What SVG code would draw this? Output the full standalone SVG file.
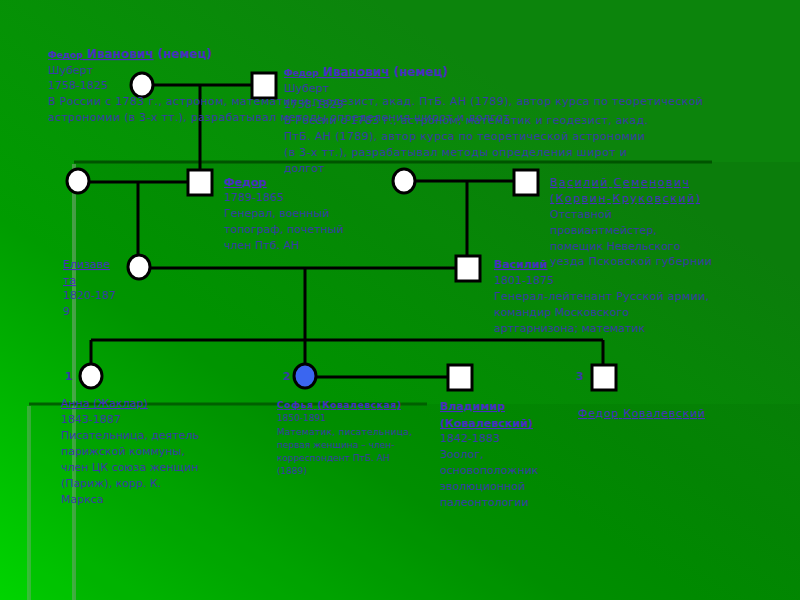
<svg xmlns="http://www.w3.org/2000/svg" width="800" height="600" viewBox="0 0 800 600">
<defs>
<linearGradient id="bg" x1="0" y1="1" x2="0.7" y2="0.2">
<stop offset="0" stop-color="#00d400"/>
<stop offset="0.45" stop-color="#009c00"/>
<stop offset="1" stop-color="#0c840c"/>
</linearGradient>
<style>
.ln{stroke:#000;stroke-width:3;fill:none}
.f{fill:#fff;stroke:#000;stroke-width:3}
.b{fill:#3a3aa6;font-family:"DejaVu Sans",Verdana,sans-serif;font-size:11px}
.s{fill:#3a3aa6;font-family:"DejaVu Sans",Verdana,sans-serif;font-size:9px}
.n{fill:#4a2ec0;text-decoration:underline}
.bd{font-weight:bold}
.num{fill:#3a3aa6;font-family:"DejaVu Sans",Verdana,sans-serif;font-size:11px;font-weight:bold}
</style>
</defs>
<rect width="800" height="600" fill="url(#bg)"/>
<rect x="74" y="162" width="726" height="438" fill="#003000" opacity="0.07"/>
<line x1="74" y1="164" x2="74" y2="600" stroke="#8aa88a" stroke-width="4" opacity="0.5"/>
<line x1="74" y1="162" x2="712" y2="162" stroke="#005400" stroke-width="3"/>
<rect x="29" y="404" width="771" height="196" fill="#003000" opacity="0.06"/>
<line x1="29" y1="406" x2="29" y2="600" stroke="#8aa88a" stroke-width="4" opacity="0.4"/>
<line x1="29" y1="404" x2="427" y2="404" stroke="#006000" stroke-width="3"/>

<g id="connectors">
<path class="ln" d="M153 85H252M200 85V170"/>
<path class="ln" d="M89 182H188M138 182V255"/>
<path class="ln" d="M415 181H514M467 181V256"/>
<path class="ln" d="M150 268H456M305 268V340"/>
<path class="ln" d="M91 340H603M91 340V364M305 340V364M603 340V365"/>
<path class="ln" d="M316 377H448"/>
</g>

<g id="n-gm1"><ellipse class="f" cx="142" cy="85" rx="11" ry="12"/></g>
<g id="n-gf1"><rect class="f" x="252" y="73" width="24" height="25"/></g>
<g id="n-gm2"><ellipse class="f" cx="78" cy="181" rx="11" ry="12"/></g>
<g id="n-fedor"><rect class="f" x="188" y="170" width="24" height="25"/></g>
<g id="n-gm3"><ellipse class="f" cx="404" cy="181" rx="11" ry="12"/></g>
<g id="n-vasilys"><rect class="f" x="514" y="170" width="24" height="25"/></g>
<g id="n-eliz"><ellipse class="f" cx="139" cy="267" rx="11" ry="12"/></g>
<g id="n-vasily"><rect class="f" x="456" y="256" width="24" height="25"/></g>
<g id="n-anna"><ellipse class="f" cx="91" cy="376" rx="11" ry="12"/></g>
<g id="n-sofia"><ellipse cx="305" cy="376" rx="11" ry="12" fill="#3a66f0" stroke="#000" stroke-width="3"/></g>
<g id="n-vlad"><rect class="f" x="448" y="365" width="24" height="25"/></g>
<g id="n-fedork"><rect class="f" x="592" y="365" width="24" height="25"/></g>

<g id="t-schubert1" class="b">
<text x="48" y="58"><tspan class="n bd" font-size="9">Федор</tspan><tspan class="n bd" font-size="12"> Иванович</tspan><tspan class="bd" fill="#4a2ec0" font-size="12"> (немец)</tspan></text>
<text x="48" y="74">Шуберт</text>
<text x="48" y="89">1758-1825</text>
<text x="48" y="105" textLength="655">В России с 1783 г., астроном, математик и геодезист, акад. ПтБ. АН (1789), автор курса по теоретической</text>
<text x="48" y="121" textLength="462">астрономии (в 3-х тт.), разрабатывал методы определения широт и долгот</text>
</g>
<g id="t-schubert2" class="b">
<text x="284" y="76"><tspan class="n bd" font-size="9">Федор</tspan><tspan class="n bd" font-size="12"> Иванович</tspan><tspan class="bd" fill="#4a2ec0" font-size="12"> (немец)</tspan></text>
<text x="284" y="92">Шуберт</text>
<text x="284" y="108">1758-1825</text>
<text x="284" y="124" textLength="364">В России с 1783 г., астроном, математик и геодезист, акад.</text>
<text x="284" y="140" textLength="361">ПтБ. АН (1789), автор курса по теоретической астрономии</text>
<text x="284" y="156" textLength="343">(в 3-х тт.), разрабатывал методы определения широт и</text>
<text x="284" y="172">долгот</text>
</g>
<g id="t-fedor" class="b">
<text x="224" y="186" class="n bd">Федор</text>
<text x="224" y="201">1789-1865</text>
<text x="224" y="217">Генерал, военный</text>
<text x="224" y="233">топограф, почетный</text>
<text x="224" y="249">член Птб. АН</text>
</g>
<g id="t-vasilys" class="b">
<text x="550" y="186" class="n" textLength="139">Василий Семенович</text>
<text x="550" y="202" class="n" textLength="150">(Корвин-Круковский)</text>
<text x="550" y="218">Отставной</text>
<text x="550" y="234">провиантмейстер,</text>
<text x="550" y="250">помещик Невельского</text>
<text x="550" y="265" textLength="162">уезда Псковской губернии</text>
</g>
<g id="t-eliz" class="b">
<text x="63" y="268" class="n">Елизаве</text>
<text x="63" y="284" class="n">та</text>
<text x="63" y="299">1820-187</text>
<text x="63" y="315">9</text>
</g>
<g id="t-vasily" class="b">
<text x="494" y="268" class="n bd">Василий</text>
<text x="494" y="284">1801-1875</text>
<text x="494" y="300" textLength="215">Генерал-лейтенант Русской армии,</text>
<text x="494" y="316">командир Московского</text>
<text x="494" y="332">артгарнизона; математик</text>
</g>
<text class="num" x="65" y="380">1</text>
<text class="num" x="283" y="380">2</text>
<text class="num" x="576" y="380">3</text>
<g id="t-anna" class="b">
<text x="61" y="407" class="n">Анна (Жаклар)</text>
<text x="61" y="423">1843-1887</text>
<text x="61" y="439">Писательница, деятель</text>
<text x="61" y="455">парижской коммуны,</text>
<text x="61" y="471">член ЦК союза женщин</text>
<text x="61" y="487">(Париж), корр. К.</text>
<text x="61" y="503">Маркса</text>
</g>
<g id="t-sofia" class="s">
<text x="277" y="408" class="n bd" textLength="124">Софья (Ковалевская)</text>
<text x="277" y="421">1850-1891</text>
<text x="277" y="435" textLength="135">Математик, писательница,</text>
<text x="277" y="448">первая женщина – член-</text>
<text x="277" y="461">корреспондент ПтБ. АН</text>
<text x="277" y="474">(1889)</text>
</g>
<g id="t-vlad" class="b">
<text x="440" y="410" class="n bd">Владимир</text>
<text x="440" y="427" class="n bd">(Ковалевский)</text>
<text x="440" y="442">1842-1883</text>
<text x="440" y="458">Зоолог,</text>
<text x="440" y="474">основоположник</text>
<text x="440" y="490">эволюционной</text>
<text x="440" y="506">палеонтологии</text>
</g>
<g id="t-fedork" class="b">
<text x="578" y="417" class="n" textLength="127">Федор  Ковалевский</text>
</g>
</svg>
